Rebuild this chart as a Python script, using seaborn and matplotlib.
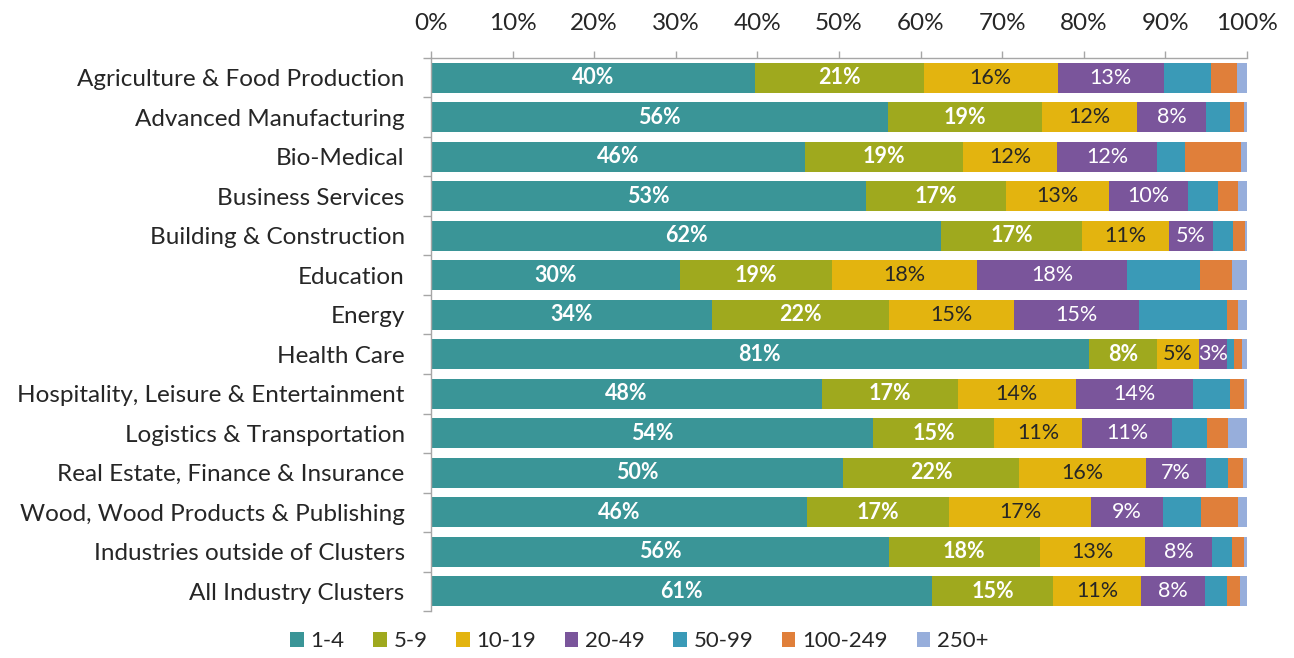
import numpy as np
import pandas as pd
import matplotlib
matplotlib.use("Agg")
import matplotlib.pyplot as plt
from matplotlib.ticker import FixedLocator, PercentFormatter
from matplotlib.patches import Patch
import seaborn as sns

industries = [
    "Agriculture & Food Production",
    "Advanced Manufacturing",
    "Bio-Medical",
    "Business Services",
    "Building & Construction",
    "Education",
    "Energy",
    "Health Care",
    "Hospitality, Leisure & Entertainment",
    "Logistics & Transportation",
    "Real Estate, Finance & Insurance",
    "Wood, Wood Products & Publishing",
    "Industries outside of Clusters",
    "All Industry Clusters",
]

size_classes = ["1-4", "5-9", "10-19", "20-49", "50-99", "100-249", "250+"]

# Share of establishments (%) by employee-size class
s_1_4 = [39.7, 56.0, 45.8, 53.3, 62.5, 30.5, 34.4, 80.6, 47.9, 54.2, 50.5, 46.1, 56.1, 61.4]
s_5_9 = [20.7, 18.9, 19.4, 17.2, 17.3, 18.6, 21.7, 8.4, 16.7, 14.8, 21.6, 17.4, 18.5, 14.8]
s_10_19 = [16.4, 11.6, 11.5, 12.6, 10.6, 17.8, 15.3, 5.1, 14.4, 10.8, 15.5, 17.4, 12.9, 10.8]
s_20_49 = [13.0, 8.5, 12.3, 9.7, 5.4, 18.4, 15.4, 3.4, 14.4, 11.0, 7.4, 8.8, 8.2, 7.8]
s_50_99 = [5.8, 2.9, 3.4, 3.6, 2.5, 8.9, 10.7, 0.9, 4.5, 4.3, 2.7, 4.7, 2.5, 2.8]
s_100_249 = [3.2, 1.7, 6.9, 2.5, 1.5, 4.0, 1.4, 1.0, 1.7, 2.6, 1.8, 4.5, 1.4, 1.6]
s_250_plus = [1.2, 0.4, 0.7, 1.1, 0.2, 1.8, 1.1, 0.6, 0.4, 2.3, 0.5, 1.1, 0.4, 0.8]

colors = ["#3A9597", "#9FA91E", "#E3B40F", "#7A559B", "#3A9AB7", "#E07F3A", "#97AEDB"]

series = [s_1_4, s_5_9, s_10_19, s_20_49, s_50_99, s_100_249, s_250_plus]
df = pd.DataFrame({c: v for c, v in zip(size_classes, series)}, index=industries)
df.index.name = "industry"
cum = df.cumsum(axis=1)
start = cum - df

sns.set_theme(style="white")
plt.rcParams["font.family"] = ["Lato", "DejaVu Sans"]

fig = plt.figure(figsize=(12.94, 6.58), dpi=100)
ax = fig.add_axes([0.3331, 0.0714, 0.6306, 0.8405])

# Stacked bars: draw cumulative totals from the outermost class inward
for cls, col in reversed(list(zip(size_classes, colors))):
    d = cum[cls].reset_index()
    sns.barplot(data=d, x=cls, y="industry", color=col, orient="h",
                width=0.76, saturation=1, ax=ax, linewidth=0)

# Value labels on the four smallest size classes
label_style = {
    "1-4": dict(color="white", fontweight="bold"),
    "5-9": dict(color="white", fontweight="bold"),
    "10-19": dict(color="#262626", fontweight="normal"),
    "20-49": dict(color="white", fontweight="normal"),
}
for cls, st in label_style.items():
    for i, name in enumerate(industries):
        v = df.loc[name, cls]
        x = start.loc[name, cls] + v / 2
        ax.text(x, i, f"{v:.0f}%", ha="center", va="center", fontsize=15.5, **st)

ax.set_xlim(0, 100)
ax.set_ylim(len(industries) - 0.5, -0.5)
ax.xaxis.tick_top()
ax.xaxis.set_label_position("top")
ax.xaxis.set_major_locator(FixedLocator(np.arange(0, 101, 10)))
ax.xaxis.set_major_formatter(PercentFormatter(decimals=0))
ax.set_xlabel("")
ax.set_ylabel("")

ax.tick_params(axis="x", which="major", top=True, bottom=False, length=5, width=1,
               color="#A6A6A6", labelsize=17.5, labelcolor="#262626", pad=12)
ax.tick_params(axis="y", which="major", left=False, labelsize=17.5,
               labelcolor="#262626", pad=13)
ax.set_yticks(range(len(industries)))
ax.set_yticklabels(industries)
ax.yaxis.set_minor_locator(FixedLocator(np.arange(-0.5, len(industries), 1.0)))
ax.tick_params(axis="y", which="minor", left=True, length=6, width=1, color="#A6A6A6")

for side in ("right", "bottom"):
    ax.spines[side].set_visible(False)
for side in ("top", "left"):
    ax.spines[side].set_color("#A6A6A6")
    ax.spines[side].set_linewidth(1)

handles = [Patch(facecolor=c, edgecolor="none") for c in colors]
fig.legend(handles, size_classes, loc="lower center", bbox_to_anchor=(0.494, -0.02),
           ncol=7, frameon=False, fontsize=16, handlelength=0.6, handleheight=0.7,
           handletextpad=0.3, columnspacing=1.3, labelcolor="#262626")

fig.savefig("out.png", dpi=100, facecolor="white")
